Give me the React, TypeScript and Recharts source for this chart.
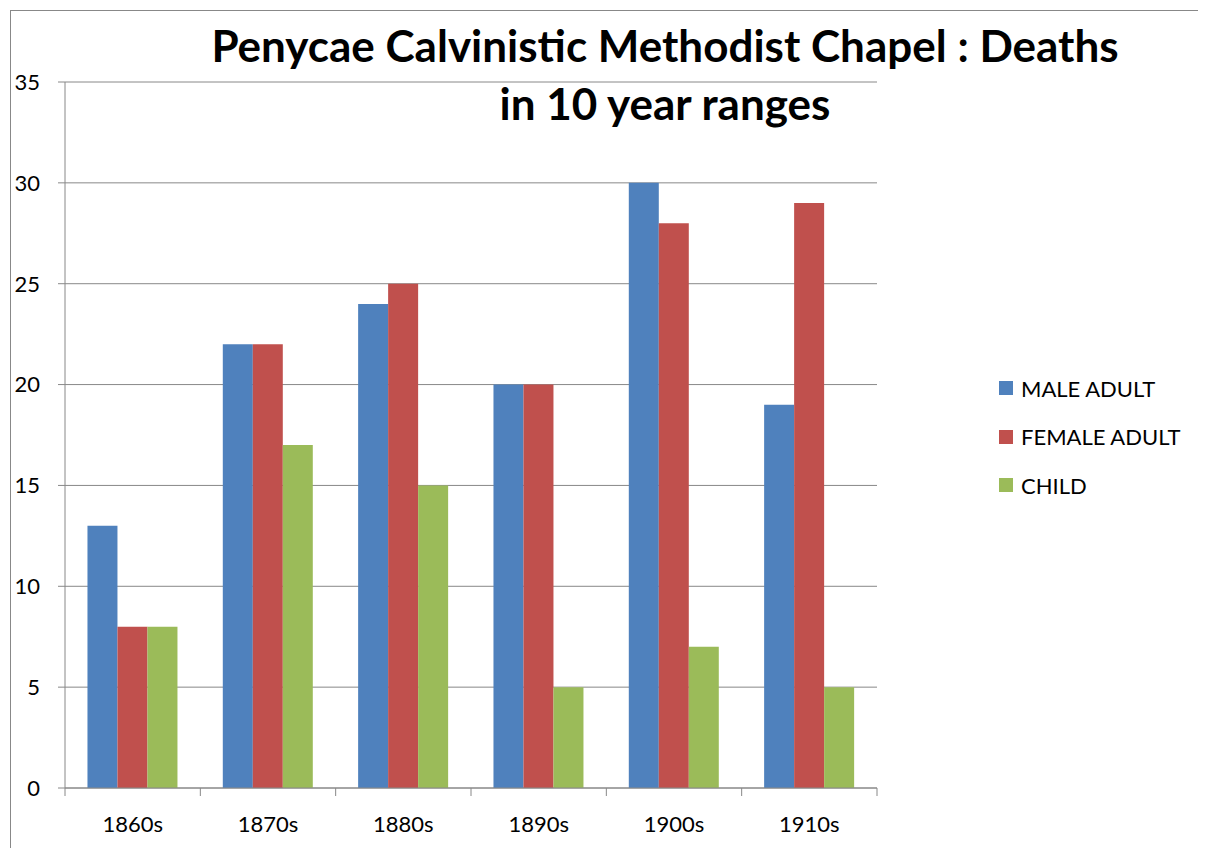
import { Bar, BarChart, CartesianGrid, Legend, XAxis, YAxis } from "recharts";

const decades = ["1860s", "1870s", "1880s", "1890s", "1900s", "1910s"];
const maleAdult = [13, 22, 24, 20, 30, 19];
const femaleAdult = [8, 22, 25, 20, 28, 29];
const child = [8, 17, 15, 5, 7, 5];
const seriesNames = ["MALE ADULT", "FEMALE ADULT", "CHILD"];
const yTicks = [0, 5, 10, 15, 20, 25, 30, 35];

const data = decades.map((decade, i) => ({
  decade,
  male: maleAdult[i],
  female: femaleAdult[i],
  child: child[i],
}));

const FONT = "Lato, 'Open Sans', sans-serif";
const W = 1190;
const H = 840;
const M = { top: 74, right: 321, bottom: 0, left: 0 };
const Y_W = 57;
const plotW = W - M.left - M.right - Y_W;
const band = plotW / decades.length;

const XTick = (props: any) => {
  const { x, y, payload, index } = props;
  return (
    <g>
      <line x1={x - band / 2} x2={x - band / 2} y1={y} y2={y + 8} stroke="#888" />
      {index === decades.length - 1 && (
        <line x1={x + band / 2} x2={x + band / 2} y1={y} y2={y + 8} stroke="#888" />
      )}
      <text x={x} y={y + 44} textAnchor="middle" fontSize={22} fontFamily={FONT} fill="#000">
        {payload.value}
      </text>
    </g>
  );
};

const LegendBox = (props: any) => {
  const { payload } = props;
  return (
    <div style={{ fontFamily: FONT, fontSize: 22, color: "#000" }}>
      {payload.map((p: any) => (
        <div key={p.value} style={{ height: 48.5, display: "flex", alignItems: "center" }}>
          <span style={{ width: 14, height: 14, background: p.color, marginRight: 8, display: "inline-block" }} />
          {p.value}
        </div>
      ))}
    </div>
  );
};

const App = () => {
  return (
    <div style={{ width: W, height: H, position: "relative" }}>
      {/* chart frame, only the top and left edges are visible in the original */}
      <div
        style={{
          position: "absolute",
          left: 2,
          top: 2,
          width: 1195,
          height: 845,
          borderTop: "1.5px solid #888",
          borderLeft: "1.5px solid #888",
          pointerEvents: "none",
        }}
      />
      <BarChart width={W} height={H} data={data} margin={M} barCategoryGap="16.6%" barGap={0}>
        <text x={657} y={54} textAnchor="middle" fontSize={44} fontWeight="bold" fontFamily={FONT} fill="#000">
          Penycae Calvinistic Methodist Chapel : Deaths
        </text>
        <text x={657} y={112} textAnchor="middle" fontSize={44} fontWeight="bold" fontFamily={FONT} fill="#000">
          in 10 year ranges
        </text>
        <CartesianGrid vertical={false} stroke="#888" />
        <XAxis
          dataKey="decade"
          height={60}
          axisLine={{ stroke: "#888" }}
          tickLine={false}
          tickSize={0}
          tickMargin={0}
          interval={0}
          tick={<XTick />}
        />
        <YAxis
          width={Y_W}
          domain={[0, 35]}
          ticks={yTicks}
          interval={0}
          axisLine={{ stroke: "#888" }}
          tickLine={{ stroke: "#888" }}
          tickSize={7}
          tickMargin={18}
          tick={{ fontSize: 22, fontFamily: FONT, fill: "#000" }}
        />
        <Legend
          layout="vertical"
          align="center"
          verticalAlign="middle"
          itemSorter={(item: any) => seriesNames.indexOf(item.value)}
          content={<LegendBox />}
          wrapperStyle={{ left: 991, top: 356, width: 200 }}
        />
        <Bar dataKey="male" name="MALE ADULT" fill="#4F81BD" isAnimationActive={false} />
        <Bar dataKey="female" name="FEMALE ADULT" fill="#C0504D" isAnimationActive={false} />
        <Bar dataKey="child" name="CHILD" fill="#9BBB59" isAnimationActive={false} />
      </BarChart>
    </div>
  );
};

export default App;
